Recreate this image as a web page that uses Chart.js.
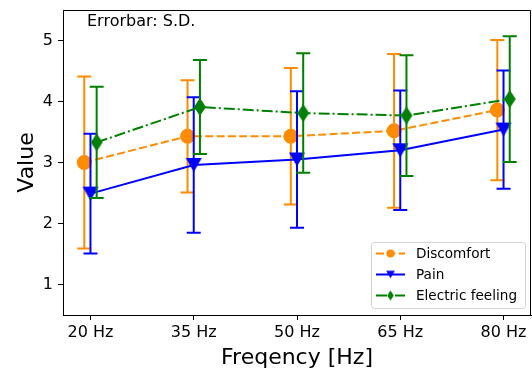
<!DOCTYPE html>
<html>
<head>
<meta charset="utf-8">
<script src="https://cdn.jsdelivr.net/npm/chart.js@4/dist/chart.umd.min.js"></script>
<style>
html,body{margin:0;padding:0;background:#fff;}
#wrap{width:532px;height:369px;position:relative;}
</style>
</head>
<body>
<div id="wrap"><canvas id="myChart" width="532" height="369"></canvas></div>
<script>
// data
let freqLabels=['20 Hz','35 Hz','50 Hz','65 Hz','80 Hz']
let yTicks=[1,2,3,4,5]
let discomfortMean=[3.00,3.43,3.43,3.52,3.86]
let discomfortSD=[1.41,0.92,1.12,1.26,1.15]
let painMean=[2.49,2.96,3.05,3.20,3.54]
let painSD=[0.98,1.11,1.12,0.98,0.97]
let electricMean=[3.33,3.91,3.81,3.77,4.04]
let electricSD=[0.91,0.77,0.98,0.99,1.03]
let seriesNames=['Discomfort','Pain','Electric feeling']
let xShift=[-0.06,0,0.06]

const FONT='"DejaVu Sans", sans-serif'
const ORANGE='#ff8c00', BLUE='#0000ff', GREEN='#008000'

function markerCanvas(kind,color,s){
    // small offscreen canvas used as a point style
    let c=document.createElement('canvas')
    let w,h
    if(kind=='tri'){w=16*s;h=14*s}else{w=12*s;h=18*s}
    c.width=Math.ceil(w)+2;c.height=Math.ceil(h)+2
    let g=c.getContext('2d')
    g.fillStyle=color
    g.beginPath()
    let cx=c.width/2,cy=c.height/2
    if(kind=='tri'){
        g.moveTo(cx-w/2,cy-h/2);g.lineTo(cx+w/2,cy-h/2);g.lineTo(cx,cy+h/2)
    }else{
        g.moveTo(cx,cy-h/2);g.lineTo(cx+w/2,cy);g.lineTo(cx,cy+h/2);g.lineTo(cx-w/2,cy)
    }
    g.closePath();g.fill()
    return c
}
let triBig=markerCanvas('tri',BLUE,1), triSmall=markerCanvas('tri',BLUE,0.55)
let diaBig=markerCanvas('dia',GREEN,1), diaSmall=markerCanvas('dia',GREEN,0.55)

function pts(means,k){
    return means.map((v,i)=>({x:i+xShift[k],y:v}))
}
let sdList=[discomfortSD,painSD,electricSD]
let colors=[ORANGE,BLUE,GREEN]
let dashes=[[8,3.3],[],[11,3,2,3]]

const errorBars={
    id:'errorBars',
    beforeDatasetDraw(chart,args){
        let k=args.index
        let ds=chart.data.datasets[k]
        let xs=chart.scales.x, ys=chart.scales.y
        let ctx=chart.ctx
        ctx.save()
        ctx.strokeStyle=colors[k]
        ctx.lineWidth=2
        ctx.setLineDash([])
        ds.data.forEach((p,i)=>{
            let px=xs.getPixelForValue(p.x)
            let top=ys.getPixelForValue(p.y+sdList[k][i])
            let bot=ys.getPixelForValue(p.y-sdList[k][i])
            ctx.beginPath()
            ctx.moveTo(px,top);ctx.lineTo(px,bot)
            ctx.moveTo(px-7,top);ctx.lineTo(px+7,top)
            ctx.moveTo(px-7,bot);ctx.lineTo(px+7,bot)
            ctx.stroke()
        })
        ctx.restore()
    },
    afterDraw(chart){
        let ctx=chart.ctx
        let a=chart.chartArea
        ctx.save()
        // top and right frame
        ctx.strokeStyle='#000'
        ctx.lineWidth=1
        ctx.beginPath()
        ctx.moveTo(a.left,a.top+0.5);ctx.lineTo(a.right-0.5,a.top+0.5);ctx.lineTo(a.right-0.5,a.bottom)
        ctx.stroke()
        // annotation
        ctx.fillStyle='#000'
        ctx.font='16px '+FONT
        ctx.textBaseline='alphabetic'
        ctx.textAlign='left'
        ctx.fillText('Errorbar: S.D.',87,26)
        // axis titles
        ctx.font='22px '+FONT
        ctx.textAlign='center'
        ctx.fillText('Freqency [Hz]',(a.left+a.right)/2,364)
        ctx.save()
        ctx.translate(33,(a.top+a.bottom)/2)
        ctx.rotate(-Math.PI/2)
        ctx.fillText('Value',0,0)
        ctx.restore()
        // legend
        let lx=371,ly=242,lw=154,lh=66
        ctx.beginPath()
        ctx.roundRect(lx+0.5,ly+0.5,lw,lh,3)
        ctx.fillStyle='rgba(255,255,255,0.8)'
        ctx.fill()
        ctx.strokeStyle='#d3d3d3'
        ctx.lineWidth=1
        ctx.stroke()
        let rows=[253.5,274.5,295.5]
        ctx.font='13.6px '+FONT
        ctx.textAlign='left'
        ctx.textBaseline='middle'
        seriesNames.forEach((name,k)=>{
            let y=rows[k]
            ctx.strokeStyle=colors[k]
            ctx.lineWidth=2
            ctx.setLineDash(dashes[k])
            ctx.beginPath()
            ctx.moveTo(376,y);ctx.lineTo(405,y)
            ctx.stroke()
            ctx.setLineDash([])
            if(k==0){
                ctx.fillStyle=ORANGE
                ctx.beginPath();ctx.arc(390.5,y,4,0,Math.PI*2);ctx.fill()
            }else{
                let im=k==1?triSmall:diaSmall
                ctx.drawImage(im,390.5-im.width/2,y-im.height/2)
            }
            ctx.fillStyle='#000'
            ctx.fillText(name,416,y+1)
        })
        ctx.restore()
    }
}

function main(){
    let ctx=document.getElementById('myChart').getContext('2d')
    new Chart(ctx,{
        type:'line',
        data:{
            datasets:[
                {label:seriesNames[0],data:pts(discomfortMean,0),borderColor:ORANGE,backgroundColor:ORANGE,
                 borderDash:dashes[0],borderWidth:2,pointStyle:'circle',pointRadius:7.5,pointBorderWidth:0,order:3},
                {label:seriesNames[1],data:pts(painMean,1),borderColor:BLUE,backgroundColor:BLUE,
                 borderWidth:2,pointStyle:triBig,order:2},
                {label:seriesNames[2],data:pts(electricMean,2),borderColor:GREEN,backgroundColor:GREEN,
                 borderDash:dashes[2],borderWidth:2,pointStyle:diaBig,order:1}
            ]
        },
        options:{
            responsive:false,
            animation:false,
            events:[],
            layout:{autoPadding:false,padding:{left:0,right:1,top:10,bottom:0}},
            plugins:{legend:{display:false},tooltip:{enabled:false}},
            scales:{
                x:{
                    type:'linear',min:-0.266,max:4.266,
                    afterBuildTicks:s=>{s.ticks=freqLabels.map((_,i)=>({value:i}))},
                    afterFit:s=>{s.height=54;s.paddingLeft=0;s.paddingRight=0},
                    ticks:{callback:v=>freqLabels[v],color:'#000',font:{family:FONT,size:16},padding:3,maxRotation:0,autoSkip:false},
                    grid:{drawOnChartArea:false,tickLength:5,tickColor:'#000',tickWidth:1},
                    border:{color:'#000',width:1}
                },
                y:{
                    min:0.5,max:5.5,
                    afterBuildTicks:s=>{s.ticks=yTicks.map(v=>({value:v}))},
                    afterFit:s=>{s.width=63;s.paddingTop=0;s.paddingBottom=0},
                    ticks:{color:'#000',font:{family:FONT,size:16},padding:5},
                    grid:{drawOnChartArea:false,tickLength:5,tickColor:'#000',tickWidth:1},
                    border:{color:'#000',width:1}
                }
            }
        },
        plugins:[errorBars]
    })
}
main()
</script>
</body>
</html>
